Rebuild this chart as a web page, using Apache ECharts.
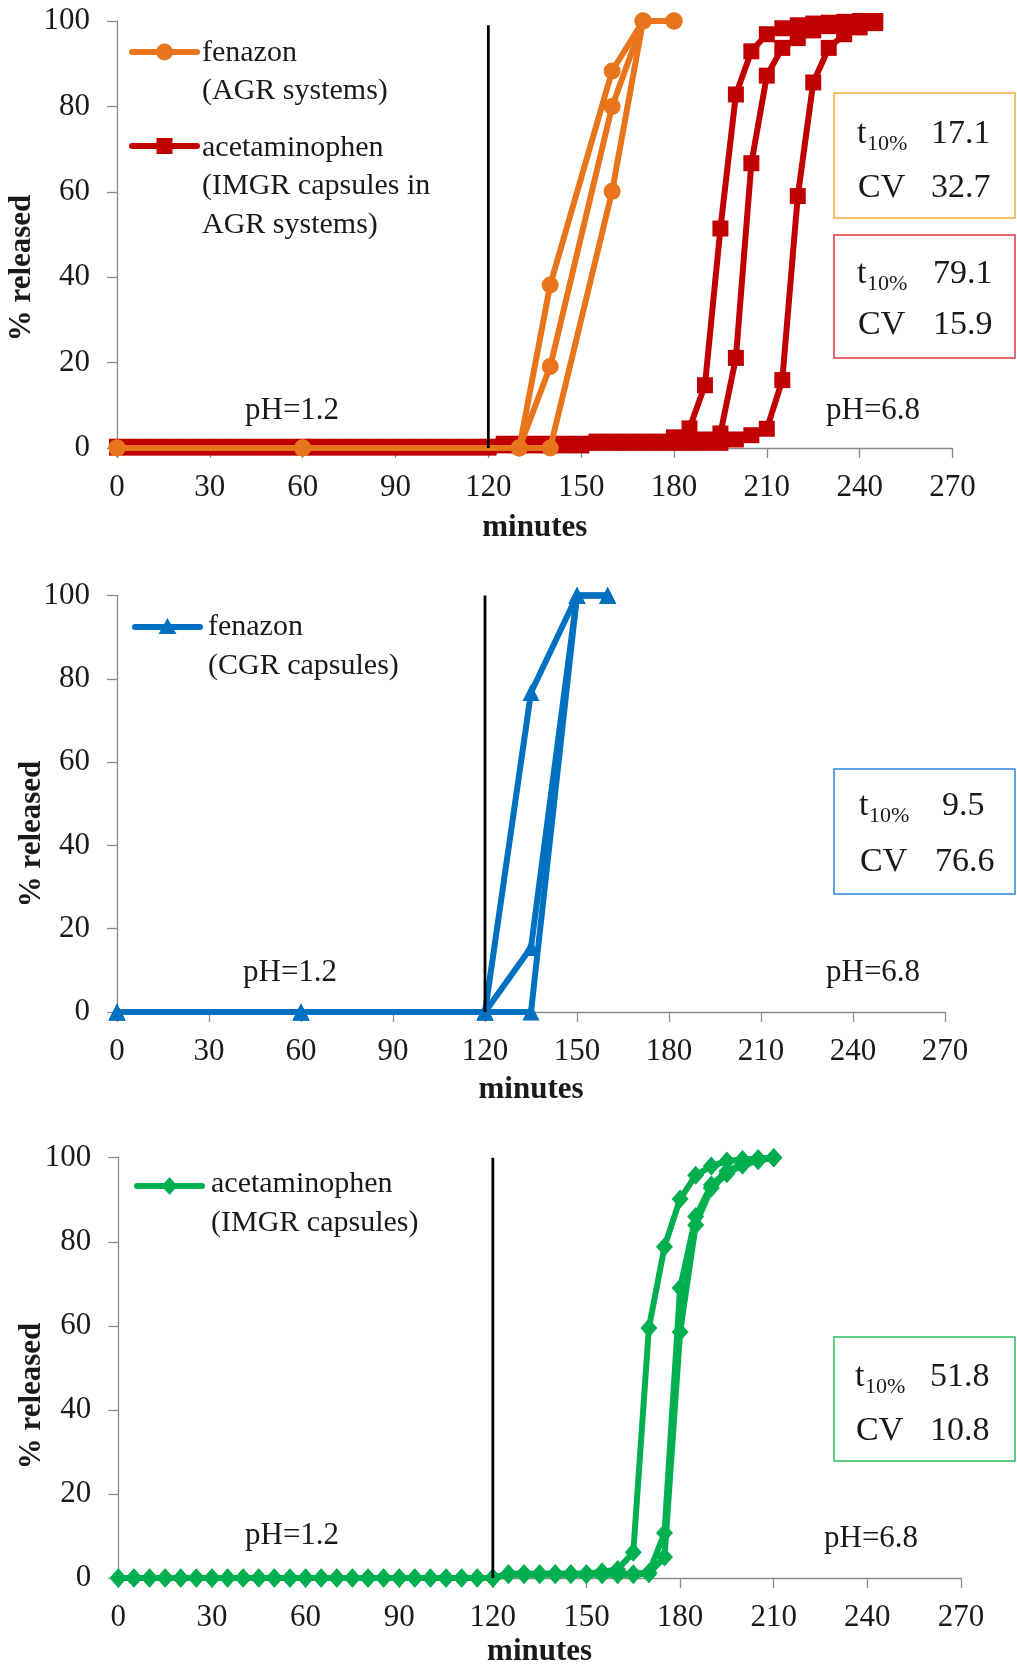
<!DOCTYPE html>
<html><head><meta charset="utf-8">
<script src="https://cdn.jsdelivr.net/npm/echarts@6/dist/echarts.min.js"></script>
<style>html,body{margin:0;padding:0;background:#fff}#c{width:1017px;height:1668px}</style>
</head><body><div id="c"></div>
<script>
// ---------- DATA ----------
// x-axis ticks (minutes)
const xTicks = [0, 30, 60, 90, 120, 150, 180, 210, 240, 270];
const yTicks = [0, 20, 40, 60, 80, 100];
const phChange = 120;

// Panel 1: fenazon (AGR systems)
const tFenAGR = [0, 60, 130, 140, 160, 170, 180];
const fenAGR1 = [0, 0, 0, 38.2, 88.3, 100, 100];
const fenAGR2 = [0, 0, 0, 19.1, 80.0, 100, 100];
const fenAGR3 = [0, 0, 0, 0, 60.1, 100, 100];

// Panel 1: acetaminophen (IMGR capsules in AGR systems)
const tAcAGR = [0,5,10,15,20,25,30,35,40,45,50,55,60,65,70,75,80,85,90,95,100,105,110,115,120,
  125,130,135,140,145,150,155,160,165,170,175,180,185,190,195,200,205,210,215,220,225,230,235,240,245];
const acAGR1 = [0.3,0.3,0.3,0.3,0.3,0.3,0.3,0.3,0.3,0.3,0.3,0.3,0.3,0.3,0.3,0.3,0.3,0.3,0.3,0.3,0.3,0.3,0.3,0.3,0.3,
  1.0,1.0,1.0,1.0,1.0,1.0,1.5,1.5,1.5,1.5,1.5,2.5,4.6,14.7,51.4,82.8,92.9,96.9,98.3,99.0,99.4,99.6,99.8,100,100];
const acAGR2 = [0.2,0.2,0.2,0.2,0.2,0.2,0.2,0.2,0.2,0.2,0.2,0.2,0.2,0.2,0.2,0.2,0.2,0.2,0.2,0.2,0.2,0.2,0.2,0.2,0.2,
  0.8,0.8,0.8,0.8,0.8,0.8,1.3,1.3,1.3,1.3,1.3,1.3,1.3,2.0,3.4,21.1,66.7,87.2,93.7,96.0,97.8,98.8,99.3,99.7,100];
const acAGR3 = [0.1,0.1,0.1,0.1,0.1,0.1,0.1,0.1,0.1,0.1,0.1,0.1,0.1,0.1,0.1,0.1,0.1,0.1,0.1,0.1,0.1,0.1,0.1,0.1,0.1,
  0.6,0.6,0.6,0.6,0.6,0.6,1.2,1.2,1.2,1.2,1.2,1.2,1.2,1.2,1.2,2.0,3.0,4.5,15.9,59.0,85.6,93.7,96.9,98.5,99.5];

// Panel 2: fenazon (CGR capsules)
const tFenCGR = [0, 60, 120, 135, 150, 160];
const fenCGR1 = [0, 0, 0, 76.7, 100, 100];
const fenCGR2 = [0, 0, 0, 15.5, 100, 100];
const fenCGR3 = [0, 0, 0, 0, 100, 100];

// Panel 3: acetaminophen (IMGR capsules)
const tAcIMGR = [0,5,10,15,20,25,30,35,40,45,50,55,60,65,70,75,80,85,90,95,100,105,110,115,120,
  125,130,135,140,145,150,155,160,165,170,175,180,185,190,195,200,205,210];
const acIMGR1 = [0,0,0,0,0,0,0,0,0,0,0,0,0,0,0,0,0,0,0,0,0,0,0,0,0,
  1.0,1.0,1.0,1.0,1.0,1.0,1.5,2.0,6.1,59.5,78.8,90.2,95.8,98.0,99.2,99.6,99.8,100];
const acIMGR2 = [0,0,0,0,0,0,0,0,0,0,0,0,0,0,0,0,0,0,0,0,0,0,0,0,0,
  1.0,1.0,1.0,1.0,1.0,1.0,1.0,1.0,1.0,1.3,10.7,69.0,86.0,93.5,96.8,98.5,99.5,100];
const acIMGR3 = [0,0,0,0,0,0,0,0,0,0,0,0,0,0,0,0,0,0,0,0,0,0,0,0,0,
  0.8,0.8,0.8,0.8,0.8,0.8,0.8,0.8,0.8,1.0,5.0,58.5,84.0,92.8,96.2,98.2,99.3,100];

// Statistics shown in boxes
const stats = [
  {t10: '17.1', cv: '32.7'},
  {t10: '79.1', cv: '15.9'},
  {t10: '9.5',  cv: '76.6'},
  {t10: '51.8', cv: '10.8'}
];
const legendText = [
  ['fenazon', '(AGR systems)'],
  ['acetaminophen', '(IMGR capsules in', 'AGR systems)'],
  ['fenazon', '(CGR capsules)'],
  ['acetaminophen', '(IMGR capsules)']
];
const vLineTop = [99, 100, 100];

// ---------- STYLE ----------
const ORANGE = '#E8751C', RED = '#C00000', BLUE = '#0070C0', GREEN = '#00B050';
const FONT = '"Liberation Serif", "Times New Roman", serif';
const TXT = '#1a1a1a';
const AX = '#8a8a8a';
const LW = 6;

const grids = [
  {left: 117, top: 21, width: 835.5, height: 427},
  {left: 117, top: 595.5, width: 828, height: 416.5},
  {left: 118.3, top: 1157.7, width: 842.7, height: 421.2}
];
const nameGaps = [64, 62, 58];

function pairs(t, v) { return t.map((x, i) => [x, v[i]]); }

const xAxes = grids.map((g, i) => ({
  type: 'value', gridIndex: i, min: 0, max: 270, interval: 30,
  name: 'minutes', nameLocation: 'middle', nameGap: nameGaps[i],
  nameTextStyle: {fontFamily: FONT, fontWeight: 'bold', fontSize: 31, color: TXT},
  axisLine: {show: true, lineStyle: {color: AX, width: 1.3}},
  axisTick: {show: true, length: 10, inside: false, lineStyle: {color: AX, width: 1.3}},
  axisLabel: {margin: 24, fontFamily: FONT, fontSize: 31, color: TXT},
  splitLine: {show: false}
}));
const yAxes = grids.map((g, i) => ({
  type: 'value', gridIndex: i, min: 0, max: 100, interval: 20,
  axisLine: {show: true, lineStyle: {color: AX, width: 1.3}},
  axisTick: {show: true, length: 10, inside: false, lineStyle: {color: AX, width: 1.3}},
  axisLabel: {margin: 27, fontFamily: FONT, fontSize: 31, color: TXT},
  splitLine: {show: false}
}));

function lineSeries(idx, t, v, color, symbol, size, z) {
  return {
    type: 'line', xAxisIndex: idx, yAxisIndex: idx, data: pairs(t, v),
    symbol: symbol, symbolSize: size, showSymbol: true, clip: false,
    itemStyle: {color: color, borderWidth: 0},
    lineStyle: {color: color, width: LW, cap: 'round', join: 'round'},
    z: z, silent: true, animation: false
  };
}

const series = [
  lineSeries(0, tAcAGR, acAGR1, RED, 'rect', 16, 2),
  lineSeries(0, tAcAGR, acAGR2, RED, 'rect', 16, 2),
  lineSeries(0, tAcAGR, acAGR3, RED, 'rect', 16, 2),
  lineSeries(0, tFenAGR, fenAGR1, ORANGE, 'circle', 17, 3),
  lineSeries(0, tFenAGR, fenAGR2, ORANGE, 'circle', 17, 3),
  lineSeries(0, tFenAGR, fenAGR3, ORANGE, 'circle', 17, 3),
  lineSeries(1, tFenCGR, fenCGR1, BLUE, 'triangle', 17, 3),
  lineSeries(1, tFenCGR, fenCGR2, BLUE, 'triangle', 17, 3),
  lineSeries(1, tFenCGR, fenCGR3, BLUE, 'triangle', 17, 3),
  lineSeries(2, tAcIMGR, acIMGR1, GREEN, 'diamond', [17, 19], 3),
  lineSeries(2, tAcIMGR, acIMGR2, GREEN, 'diamond', [17, 19], 3),
  lineSeries(2, tAcIMGR, acIMGR3, GREEN, 'diamond', [17, 19], 3)
];
// vertical line marking the pH change
[0, 1, 2].forEach(i => {
  series.push({
    type: 'line', xAxisIndex: i, yAxisIndex: i,
    data: [[phChange, 0], [phChange, vLineTop[i]]],
    symbol: 'none', clip: false, silent: true, animation: false,
    lineStyle: {color: '#000', width: 2.8}, z: 10
  });
});

// ---------- GRAPHIC (texts, legends, boxes) ----------
const gfx = [];
function txt(x, baseline, s, size, extra) {
  return {
    type: 'text', x: x, y: baseline - 0.305 * size, silent: true, z: 20,
    style: Object.assign({text: s, font: size + 'px ' + FONT, fill: TXT,
      align: 'left', verticalAlign: 'middle', textAlign: 'left', textVerticalAlign: 'middle'}, extra || {})
  };
}
// y-axis titles
[[22, 268], [32, 834], [32, 1396]].forEach(p => {
  gfx.push({type: 'text', x: p[0], y: p[1], rotation: Math.PI / 2, silent: true, z: 20,
    style: {text: '% released', font: 'bold 31px ' + FONT, fill: TXT,
      align: 'center', verticalAlign: 'middle', textAlign: 'center', textVerticalAlign: 'middle'}});
});
// pH labels
[[245, 420, 826, 420], [243, 982, 826, 982], [245, 1545, 824, 1548]].forEach(p => {
  gfx.push(txt(p[0], p[1], 'pH=1.2', 31));
  gfx.push(txt(p[2], p[3], 'pH=6.8', 31));
});
// legends
function legend(x1, x2, y, color, shape, tx, baselines, lines) {
  gfx.push({type: 'line', silent: true, z: 20, shape: {x1: x1, y1: y, x2: x2, y2: y},
    style: {stroke: color, lineWidth: LW, lineCap: 'round'}});
  const cx = (x1 + x2) / 2;
  if (shape === 'circle') gfx.push({type: 'circle', silent: true, z: 21, shape: {cx: cx, cy: y, r: 8.5}, style: {fill: color}});
  if (shape === 'rect') gfx.push({type: 'rect', silent: true, z: 21, shape: {x: cx - 8, y: y - 8, width: 16, height: 16}, style: {fill: color}});
  if (shape === 'triangle') gfx.push({type: 'polygon', silent: true, z: 21, shape: {points: [[cx, y - 9], [cx + 9, y + 7], [cx - 9, y + 7]]}, style: {fill: color}});
  if (shape === 'diamond') gfx.push({type: 'polygon', silent: true, z: 21, shape: {points: [[cx, y - 9], [cx + 8, y], [cx, y + 9], [cx - 8, y]]}, style: {fill: color}});
  lines.forEach((s, i) => gfx.push(txt(tx, baselines[i], s, 30)));
}
legend(132, 197, 52, ORANGE, 'circle', 202, [62, 100], legendText[0]);
legend(132, 197, 146, RED, 'rect', 202, [157, 195, 234], legendText[1]);
legend(135, 200, 627, BLUE, 'triangle', 208, [636, 675], legendText[2]);
legend(137, 202, 1186, GREEN, 'diamond', 211, [1193, 1232], legendText[3]);

// statistic boxes
function box(y, h, color, st, tX, numX1, numX2, b1, b2) {
  gfx.push({type: 'rect', silent: true, z: 19, shape: {x: 834, y: y, width: 181, height: h},
    style: {fill: '#fff', stroke: color, lineWidth: 1.5}});
  gfx.push(txt(tX, b1, 't', 34));
  gfx.push(txt(tX + 10, b1 + 7, '10%', 22));
  gfx.push(txt(numX1, b1, st.t10, 34));
  gfx.push(txt(tX + 1, b2, 'CV', 34));
  gfx.push(txt(numX2, b2, st.cv, 34));
}
box(93, 125, '#FBA937', stats[0], 857, 931, 931, 144, 198);
box(235, 123, '#D9373C', stats[1], 857, 933, 933, 284, 335);
box(769, 125, '#2B87D3', stats[2], 859, 942, 935, 816, 872);
box(1337, 124, '#2EBE62', stats[3], 855, 930, 930, 1387, 1441);

const chart = echarts.init(document.getElementById('c'), null, {renderer: 'canvas'});
chart.setOption({
  backgroundColor: '#fff',
  animation: false,
  grid: grids,
  xAxis: xAxes,
  yAxis: yAxes,
  series: series,
  graphic: {elements: gfx}
});
</script></body></html>
